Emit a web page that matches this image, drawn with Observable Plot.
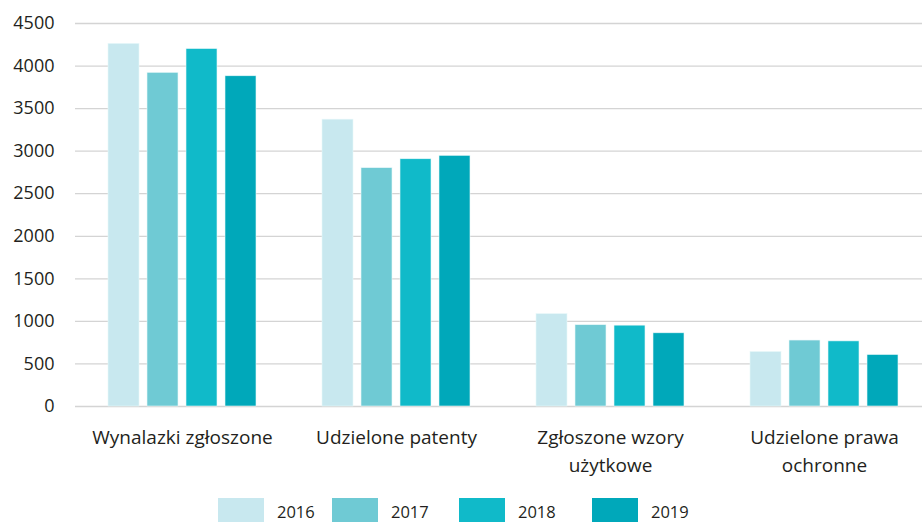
<!DOCTYPE html>
<html><head><meta charset="utf-8">
<script src="https://cdn.jsdelivr.net/npm/d3@7"></script>
<script src="https://cdn.jsdelivr.net/npm/@observablehq/plot@0.6"></script>
<style>
html,body{margin:0;padding:0;background:#fff;}
#wrap{position:relative;width:922px;height:522px;overflow:hidden;font-family:"Open Sans",sans-serif;color:#231f20;}
#legend{position:absolute;top:498px;left:0;width:922px;height:26px;}
.item{position:absolute;top:0;display:flex;align-items:center;height:26px;font-size:16.5px;}
.sw{width:46px;height:26px;margin-right:13px;}
</style></head><body><div id="wrap"><div id="chart"></div><div id="legend"></div></div>
<script>
const categories = ["Wynalazki zgłoszone","Udzielone patenty","Zgłoszone wzory użytkowe","Udzielone prawa ochronne"];
const categoryLabels = ["Wynalazki zgłoszone","Udzielone patenty","Zgłoszone wzory\nużytkowe","Udzielone prawa\nochronne"];
const years = ["2016","2017","2018","2019"];
const v2016 = [4260, 3370, 1085, 640];
const v2017 = [3920, 2800, 955, 775];
const v2018 = [4200, 2905, 950, 765];
const v2019 = [3880, 2945, 860, 605];
const yTicks = [0, 500, 1000, 1500, 2000, 2500, 3000, 3500, 4000, 4500];
const colors = ["#c8e8ef", "#6fcad4", "#10bac9", "#00a8ba"];

const series = [v2016, v2017, v2018, v2019];
const data = [];
categories.forEach((c, i) => years.forEach((y, j) => data.push({category: c, year: y, value: series[j][i]})));
const labelMap = Object.fromEntries(categories.map((c, i) => [c, categoryLabels[i]]));

const chart = Plot.plot({
  width: 922, height: 480,
  marginLeft: 73, marginRight: -10, marginTop: 23, marginBottom: 74,
  style: {fontFamily: "Open Sans", fontSize: "17px", color: "#231f20", background: "#fff"},
  fx: {domain: categories, padding: 0, label: null},
  x: {domain: years, paddingInner: 0.2, paddingOuter: 0.84, axis: null},
  y: {domain: [0, 4500], label: null},
  color: {domain: years, range: colors},
  marks: [
    Plot.gridY(yTicks, {stroke: "#d4d4d4", strokeOpacity: 1, strokeWidth: 1.3}),
    Plot.barY(data, {fx: "category", x: "year", y: "value", fill: "year", stroke: "#e6f7f9", strokeWidth: 0.6}),
    Plot.axisY(yTicks, {tickSize: 0, tickPadding: 21, label: null, fontSize: 18, tickFormat: d => String(d)}),
    Plot.axisFx({anchor: "bottom", tickSize: 0, tickPadding: 18, label: null, fontSize: 19, tickFormat: d => labelMap[d], lineHeight: 1.47})
  ]
});
document.getElementById("chart").appendChild(chart);

const legendLefts = [218, 332, 459, 592];
const legend = document.getElementById("legend");
years.forEach((y, i) => {
  const it = document.createElement("div");
  it.className = "item";
  it.style.left = legendLefts[i] + "px";
  const sw = document.createElement("div");
  sw.className = "sw";
  sw.style.background = colors[i];
  const t = document.createElement("span");
  t.textContent = y;
  it.appendChild(sw); it.appendChild(t);
  legend.appendChild(it);
});
</script></body></html>
